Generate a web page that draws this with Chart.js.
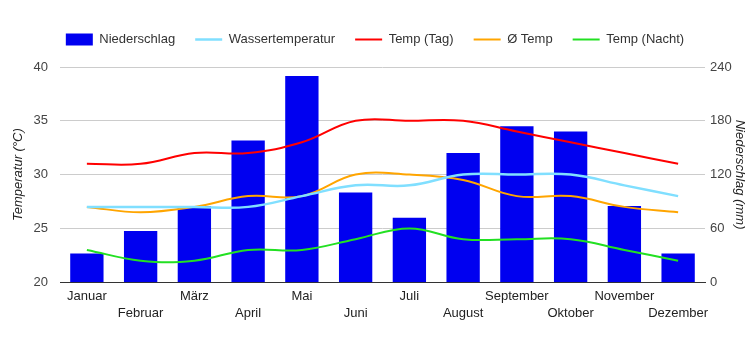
<!DOCTYPE html>
<html>
<head>
<meta charset="utf-8">
<script src="https://cdn.jsdelivr.net/npm/chart.js@4"></script>
<style>
  html, body { margin: 0; padding: 0; background: #fff; }
  #wrap { width: 750px; height: 350px; }
</style>
</head>
<body>
<div id="wrap"><canvas id="grafico"></canvas></div>
<script>
// Monate und Werte
const monate = ["Januar", "Februar", "März", "April", "Mai", "Juni", "Juli", "August", "September", "Oktober", "November", "Dezember"];
const niederschlag = [32, 57, 85, 158, 230, 100, 72, 144, 174, 168, 85, 32];
const wassertemp = [27, 27, 27, 27, 28, 29, 29, 30, 30, 30, 29, 28];
const tempTag = [31, 31, 32, 32, 33, 35, 35, 35, 34, 33, 32, 31];
const tempMittel = [27, 26.5, 27, 28, 28, 30, 30, 29.5, 28, 28, 27, 26.5];
const tempNacht = [23, 22, 22, 23, 23, 24, 25, 24, 24, 24, 23, 22];

Chart.defaults.font.family = "'Liberation Sans', Arial, sans-serif";
Chart.defaults.font.size = 13;
Chart.defaults.color = "#333";

function linie(label, data, farbe, breite) {
  return {
    type: "line",
    label: label,
    data: data,
    borderColor: farbe,
    backgroundColor: farbe,
    borderWidth: breite,
    pointRadius: 0,
    pointHoverRadius: 0,
    tension: 0.4,
    fill: false,
    yAxisID: "yTemp",
    pointStyle: "line"
  };
}

// etwas mehr Platz unter der Legende
const legendeAbstand = {
  id: "legendeAbstand",
  beforeInit(chart) {
    const fitOrig = chart.legend.fit;
    chart.legend.fit = function () {
      fitOrig.bind(chart.legend)();
      this.height += 11;
    };
  }
};

const config = {
  data: {
    labels: monate,
    datasets: [
      {
        type: "bar",
        label: "Niederschlag",
        data: niederschlag,
        backgroundColor: "#0000f0",
        borderWidth: 0,
        barPercentage: 0.62,
        categoryPercentage: 1,
        yAxisID: "yMm",
        pointStyle: "rect",
        order: 10
      },
      linie("Wassertemperatur", wassertemp, "#80dfff", 2.5),
      linie("Temp (Tag)", tempTag, "#ff0000", 2),
      linie("Ø Temp", tempMittel, "#ffa500", 2),
      linie("Temp (Nacht)", tempNacht, "#22e022", 2)
    ]
  },
  options: {
    responsive: true,
    maintainAspectRatio: false,
    animation: false,
    layout: { padding: { left: 0, right: 0, top: 13, bottom: 22 } },
    plugins: {
      tooltip: { enabled: false },
      legend: {
        position: "top",
        labels: {
          usePointStyle: true,
          pointStyleWidth: 27,
          boxHeight: 12,
          padding: 20,
          color: "#333",
          sort: (a, b) => a.datasetIndex - b.datasetIndex
        }
      }
    },
    scales: {
      x: {
        grid: { display: false, drawTicks: false },
        border: { color: "#333", width: 1 },
        ticks: {
          color: "#222",
          maxRotation: 0,
          autoSkip: false,
          padding: 6,
          font: { lineHeight: 1.3 },
          callback: function (v, i) {
            return i % 2 === 0 ? [monate[i], ""] : ["", monate[i]];
          }
        }
      },
      yTemp: {
        position: "left",
        min: 20,
        max: 40,
        afterFit: (s) => { s.width = 60; },
        ticks: { stepSize: 5, color: "#444", padding: 12 },
        grid: { color: "#ccc", drawTicks: false },
        border: { display: false },
        title: { display: true, text: "Temperatur (°C)", font: { style: "italic" }, color: "#222", padding: { top: 11, bottom: 4 } }
      },
      yMm: {
        position: "right",
        min: 0,
        max: 240,
        afterFit: (s) => { s.width = 45; },
        ticks: { stepSize: 60, color: "#444", padding: 5 },
        grid: { display: false, drawTicks: false },
        border: { display: false },
        title: { display: true, text: "Niederschlag (mm)", font: { style: "italic" }, color: "#222", padding: { top: 3, bottom: 4 } }
      }
    }
  },
  plugins: [legendeAbstand]
};

new Chart(document.getElementById("grafico"), config);
</script>
</body>
</html>
